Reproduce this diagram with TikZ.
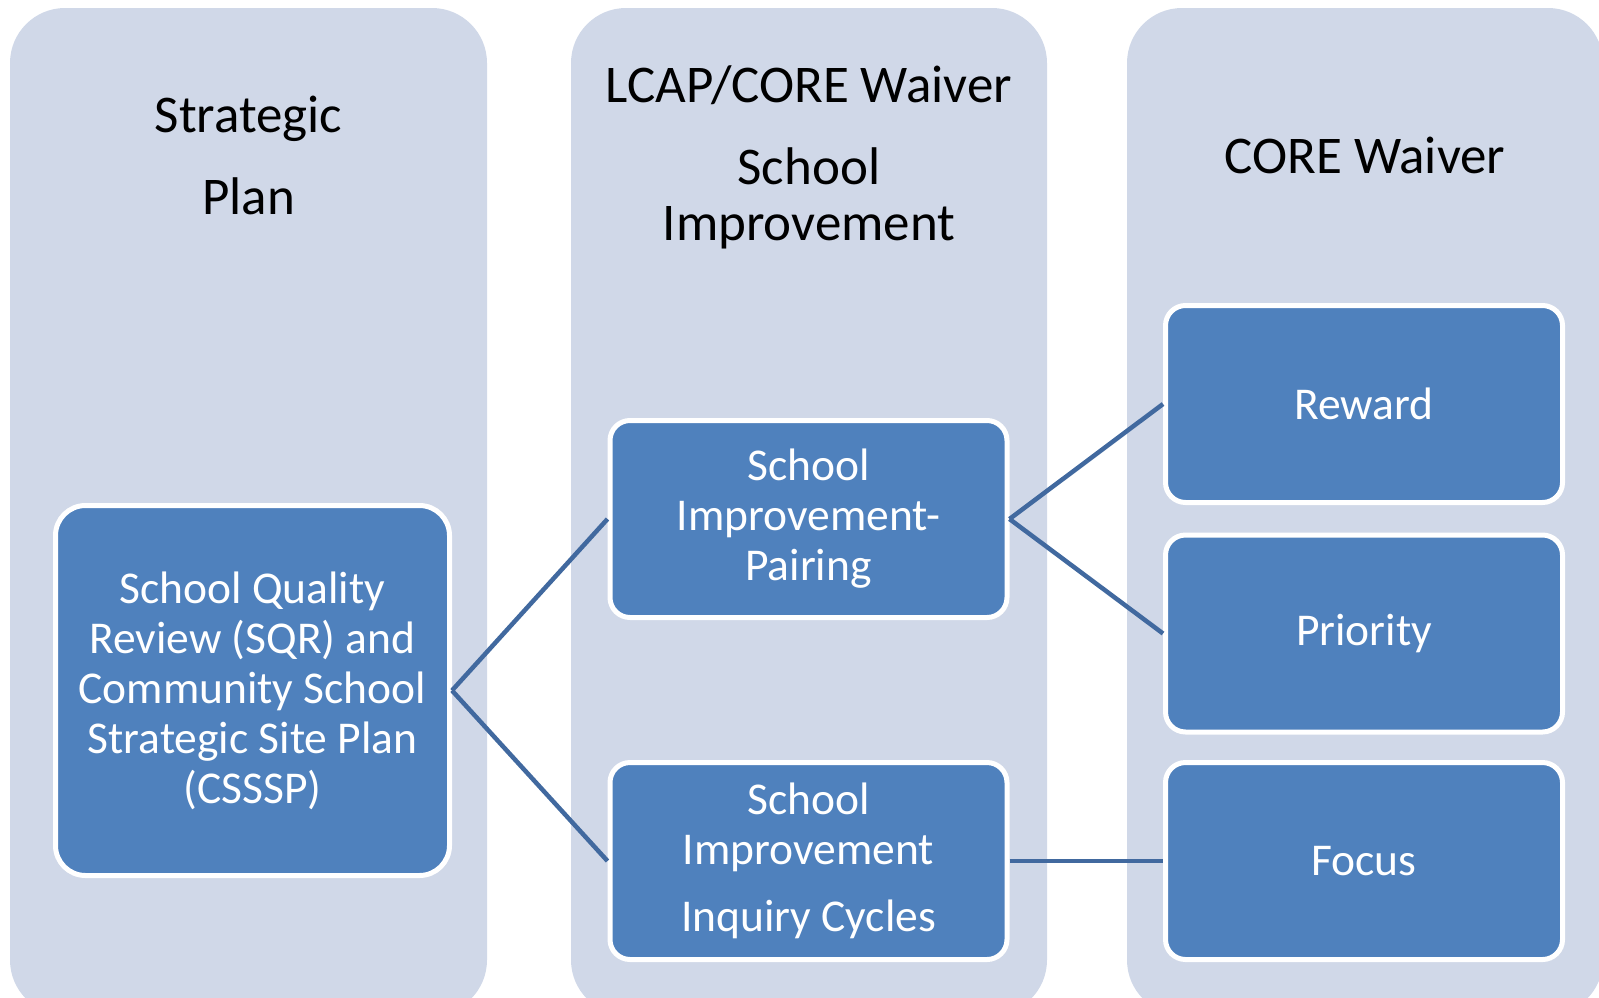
\documentclass[tikz,border=0pt]{standalone}
\usepackage{fontspec}
\setmainfont{Carlito}
\definecolor{colfill}{HTML}{D0D8E8}
\definecolor{boxfill}{HTML}{4F81BD}
\definecolor{linkblue}{HTML}{41699F}
\begin{document}
\begin{tikzpicture}[x=1pt, y=-1pt,
  column/.style={fill=colfill, rounded corners=55pt},
  header/.style={anchor=base, align=center, inner sep=0pt, font=\fontsize{53}{56}\selectfont},
  item/.style={rectangle, draw=white, line width=5pt, fill=boxfill, text=white, rounded corners=20pt,
    align=center, inner sep=0pt, font=\fontsize{45.5}{50}\selectfont, minimum width=397pt, minimum height=197pt},
  link/.style={draw=linkblue, line width=4.5pt}]
  \useasboundingbox (0,0) rectangle (1599,997);

  % Define columns
  \fill[column] (10,8) rectangle (487,1015);
  \fill[column] (571,8) rectangle (1047,1015);
  \fill[column] (1127,8) rectangle (1603,1015);

  % Add column headers (base = last line)
  \node[header] (strategic) at (248.5,214) {Strategic\\[26pt]Plan};
  \node[header] (lcap) at (809,240) {LCAP/CORE Waiver\\[26pt]School\\Improvement};
  \node[header] (core) at (1365,173) {CORE Waiver};

  % Define boxes
  \node[item, minimum width=394pt, minimum height=370pt, rounded corners=30pt] (sqr) at (252.5,690.5)
    {School Quality\\Review (SQR) and\\Community School\\Strategic Site Plan\\(CSSSP)};
  \node[item] (pairing) at (808.5,519) {School\\Improvement-\\Pairing};
  \node[item] (inquiry) at (808.5,861) {School\\Improvement\\[17pt]Inquiry Cycles};
  \node[item] (reward) at (1364,404) {Reward};
  \node[item] (priority) at (1364,633.5) {Priority};
  \node[item] (focus) at (1364,861) {Focus};

  % Draw links
  \draw[link] (sqr.east) -- (pairing.west);
  \draw[link] (sqr.east) -- (inquiry.west);
  \draw[link] (pairing.east) -- (reward.west);
  \draw[link] (pairing.east) -- (priority.west);
  \draw[link] (inquiry.east) -- (focus.west);
\end{tikzpicture}
\end{document}
